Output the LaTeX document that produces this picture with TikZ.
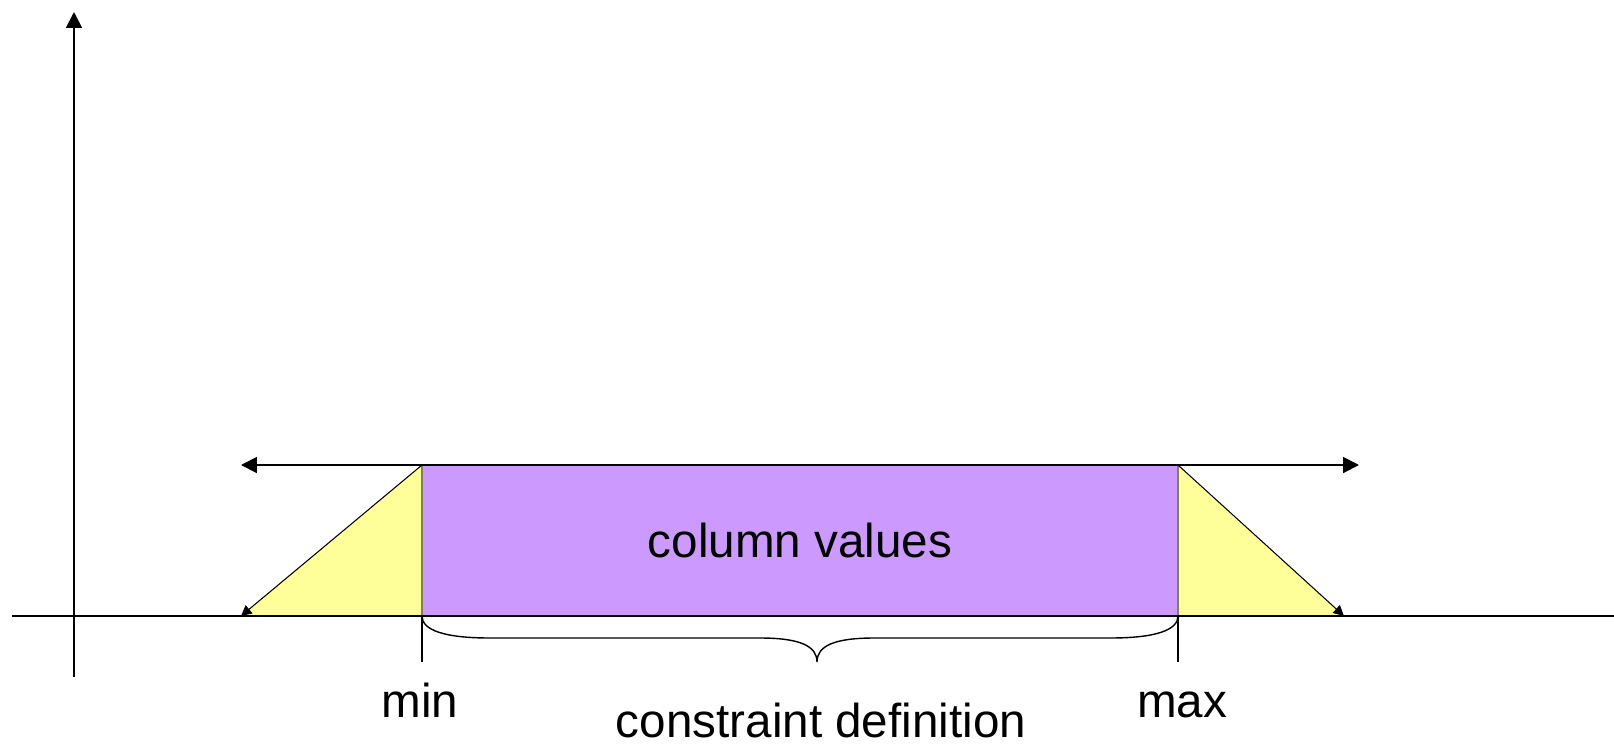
\documentclass[tikz,border=0pt]{standalone}
\usepackage{fontspec}
\setmainfont{Liberation Sans}
\usetikzlibrary{arrows.meta}
\usetikzlibrary{positioning}

\definecolor{rangefill}{HTML}{CC99FF}
\definecolor{slopefill}{HTML}{FFFF99}
\definecolor{slopeedge}{HTML}{808060}

\begin{document}
\begin{tikzpicture}[
            x = 0.02cm, y = -0.02cm, % one unit per pixel, y downwards
            > = {Triangle[length=9pt, width=9pt]}, % arrow head style
            line width = 1.1pt
        ]

        \tikzstyle{label}=[
            inner sep = 0pt,
            anchor = base,
            font = \fontsize{27.1}{32}\selectfont
        ]
        \tikzstyle{slope}=[
            fill = slopefill,
            draw = slopeedge,
            line width = 0.6pt
        ]

        \useasboundingbox (0,0) rectangle (1614,752);

	% corner points of the range
        \coordinate (lo) at (241,616);
        \coordinate (min) at (422,616);
        \coordinate (mintop) at (422,465);
        \coordinate (max) at (1178,616);
        \coordinate (maxtop) at (1178,465);
        \coordinate (hi) at (1344,616);

	% filled areas
        \fill[rangefill] (min) rectangle (maxtop);
        \path[slope] (lo) -- (min) -- (mintop);
        \path[slope] (hi) -- (max) -- (maxtop);

	% slopes
        \draw[->, line width=0.6pt, >={Triangle[length=6pt, width=6pt]}] (mintop) -- (lo);
        \draw[->, line width=0.6pt, >={Triangle[length=6pt, width=6pt]}] (maxtop) -- (hi);

	% axes
        \coordinate (xstart) at (12,616);
        \coordinate (xend) at (1614,616);
        \coordinate (ystart) at (74,677);
        \coordinate (yend) at (74,12);
        \draw (xstart) -- (xend);
        \draw[->] (ystart) -- (yend);

	% range arrow
        \coordinate (left) at (241,465);
        \coordinate (right) at (1359,465);
        \draw[<->] (left) -- (right);

	% ticks and brace
        \coordinate (mintick) at (422,662);
        \coordinate (maxtick) at (1178,662);
        \coordinate (tip) at (817,662);
        \draw[line width=0.8pt] (min) -- (mintick);
        \draw[line width=0.8pt] (max) -- (maxtick);
        \draw[line width=0.8pt]
            (min) .. controls (422,630) and (444,638) .. (490,638)
            -- (760,638) .. controls (800,638) and (817,646) .. (tip)
            .. controls (817,646) and (834,638) .. (874,638)
            -- (1110,638) .. controls (1156,638) and (1178,630) .. (max);

	% labels
        \node[label] (values) at (800,557) {column values};
        \node[label] (minlabel) at (420,717) {min};
        \node[label] (maxlabel) at (1182,717) {max};
        \node[label] (definition) at (821,737) {constraint definition};

  \end{tikzpicture}
\end{document}
